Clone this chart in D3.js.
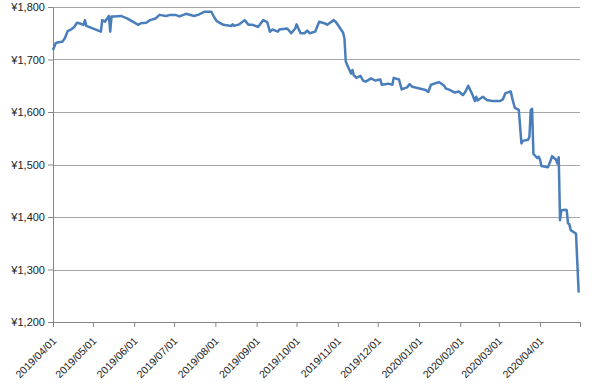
<!DOCTYPE html>
<html>
<head>
<meta charset="utf-8">
<script src="https://cdn.jsdelivr.net/npm/d3@7"></script>
<style>
  body { margin: 0; background: #fff; }
  text { font-family: "Liberation Sans", Arial, sans-serif; fill: #222; }
</style>
</head>
<body>
<div id="chart"></div>
<script>
// daily closing price
const dates = [
  "2019-04-01","2019-04-03","2019-04-05","2019-04-08","2019-04-10","2019-04-12","2019-04-15","2019-04-17",
  "2019-04-19","2019-04-22","2019-04-24","2019-04-25","2019-04-26","2019-05-07","2019-05-08","2019-05-10",
  "2019-05-13","2019-05-14","2019-05-15","2019-05-17","2019-05-22","2019-05-27","2019-05-31","2019-06-04",
  "2019-06-06","2019-06-10","2019-06-13","2019-06-17","2019-06-20","2019-06-25","2019-06-28","2019-07-02",
  "2019-07-05","2019-07-10","2019-07-16","2019-07-19","2019-07-24","2019-07-29","2019-07-31","2019-08-02",
  "2019-08-07","2019-08-13","2019-08-14","2019-08-15","2019-08-19","2019-08-23","2019-08-26","2019-08-29",
  "2019-09-02","2019-09-06","2019-09-09","2019-09-11","2019-09-13","2019-09-17","2019-09-18","2019-09-24",
  "2019-09-27","2019-09-30","2019-10-01","2019-10-04","2019-10-07","2019-10-09","2019-10-11","2019-10-15",
  "2019-10-18","2019-10-23","2019-10-24","2019-10-29","2019-10-31","2019-11-05","2019-11-06","2019-11-07",
  "2019-11-08","2019-11-11","2019-11-12","2019-11-13","2019-11-15","2019-11-18","2019-11-20","2019-11-22",
  "2019-11-26","2019-11-29","2019-12-03","2019-12-04","2019-12-09","2019-12-12","2019-12-13","2019-12-17",
  "2019-12-19","2019-12-23","2019-12-25","2019-12-27","2020-01-06","2020-01-08","2020-01-10","2020-01-16",
  "2020-01-20","2020-01-21","2020-01-24","2020-01-28","2020-01-31","2020-02-03","2020-02-05","2020-02-07",
  "2020-02-10","2020-02-12","2020-02-13","2020-02-14","2020-02-18","2020-02-21","2020-02-25","2020-03-02",
  "2020-03-04","2020-03-06","2020-03-10","2020-03-11","2020-03-13","2020-03-16","2020-03-18","2020-03-19",
  "2020-03-23","2020-03-24","2020-03-25","2020-03-26","2020-03-27","2020-03-30","2020-03-31","2020-04-01",
  "2020-04-02","2020-04-06","2020-04-07","2020-04-09","2020-04-10","2020-04-13","2020-04-14","2020-04-15",
  "2020-04-16","2020-04-17","2020-04-20","2020-04-21","2020-04-22","2020-04-23","2020-04-24","2020-04-27",
  "2020-04-28","2020-04-30"
];
const prices = [
  1718,1731,1733,1734,1741,1754,1758,1762,
  1770,1768,1766,1775,1764,1753,1775,1772,
  1783,1753,1782,1782,1783,1778,1772,1766,
  1769,1770,1775,1778,1785,1783,1785,1785,
  1782,1787,1783,1785,1791,1791,1781,1773,
  1766,1764,1767,1764,1767,1775,1766,1766,
  1762,1775,1771,1753,1757,1753,1757,1759,
  1750,1759,1767,1750,1750,1755,1750,1753,
  1772,1768,1766,1775,1770,1751,1740,1696,
  1690,1673,1680,1670,1665,1669,1660,1658,
  1664,1660,1662,1652,1654,1652,1665,1662,
  1643,1647,1653,1648,1642,1638,1652,1657,
  1650,1645,1642,1637,1639,1632,1639,1650,
  1634,1621,1629,1622,1629,1623,1621,1621,
  1624,1636,1639,1627,1608,1604,1540,1545,
  1547,1553,1604,1606,1520,1512,1515,1509,
  1497,1495,1495,1508,1516,1509,1502,1514,
  1394,1413,1414,1413,1388,1386,1375,1370,
  1368,1256
];
const yTicks = [1200, 1300, 1400, 1500, 1600, 1700, 1800];
const monthTicks = [
  "2019-04-01","2019-05-01","2019-06-01","2019-07-01","2019-08-01","2019-09-01","2019-10-01",
  "2019-11-01","2019-12-01","2020-01-01","2020-02-01","2020-03-01","2020-04-01","2020-05-01"
];
const lastLabelled = "2020-04-01";

const margin = {top: 7, right: 20, bottom: 65, left: 53},
    width = 600 - margin.left - margin.right,
    height = 387 - margin.top - margin.bottom;

const parse = d3.timeParse("%Y-%m-%d");
const fmt = d3.timeFormat("%Y/%m/%d");

const svg = d3.select("#chart")
    .append("svg")
    .attr("width", width + margin.left + margin.right)
    .attr("height", height + margin.top + margin.bottom)
    .append("g")
    .attr("transform", `translate(${margin.left}, ${margin.top})`);

const x = d3.scaleTime()
    .domain([parse(monthTicks[0]), parse(monthTicks[monthTicks.length - 1])])
    .range([0, width]);

const y = d3.scaleLinear()
    .domain([1200, 1800])
    .range([height, 0]);

// gridlines
svg.append("g")
    .selectAll("line")
    .data(yTicks.slice(1))
    .enter()
    .append("line")
    .attr("x1", 0)
    .attr("x2", width)
    .attr("y1", d => Math.round(y(d)) + 0.5)
    .attr("y2", d => Math.round(y(d)) + 0.5)
    .style("stroke", "#a6a6a6")
    .style("stroke-width", 1);

// Y axis
const yAxis = svg.append("g")
    .call(d3.axisLeft(y).tickValues(yTicks).tickSize(5)
        .tickFormat(d => "¥" + d3.format(",")(d)));
yAxis.select(".domain").style("stroke", "#868686");
yAxis.selectAll(".tick line").style("stroke", "#868686");
yAxis.selectAll("text")
    .attr("x", -8)
    .style("font-size", "11px");

// X axis
const xAxis = svg.append("g")
    .attr("transform", `translate(0, ${height})`)
    .call(d3.axisBottom(x).tickValues(monthTicks.map(parse)).tickSize(5)
        .tickFormat(d => d <= parse(lastLabelled) ? fmt(d) : ""));
xAxis.select(".domain").style("stroke", "#868686");
xAxis.selectAll(".tick line").style("stroke", "#868686");
xAxis.selectAll("text")
    .attr("x", 0)
    .attr("y", 0)
    .attr("dy", "0.35em")
    .attr("transform", "translate(1, 17) rotate(-45)")
    .style("text-anchor", "end")
    .style("font-size", "10.5px");

// price line
const line = d3.line()
    .x((d, i) => x(parse(dates[i])))
    .y(d => y(d));

svg.append("path")
    .datum(prices)
    .attr("d", line)
    .style("fill", "none")
    .style("stroke", "#4a7ebb")
    .style("stroke-width", 2.5)
    .style("stroke-linejoin", "round");
</script>
</body>
</html>
